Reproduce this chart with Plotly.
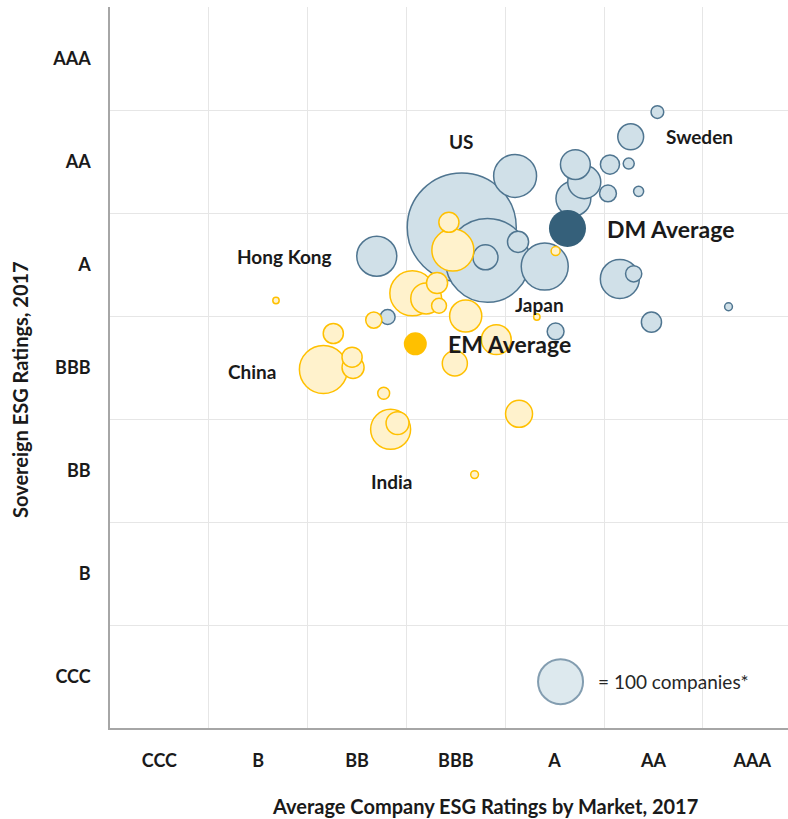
import numpy as np
import plotly.graph_objects as go

# --- rating scale (same on both axes) ---
RATINGS = ["CCC", "B", "BB", "BBB", "A", "AA", "AAA"]

# --- developed markets: avg company rating (x), sovereign rating (y), no. of companies ---
dm_x = [5.54, 5.27, 4.10, 3.56, 3.82, 3.80, 4.13, 4.40, 4.71, 4.80, 4.69, 5.06, 5.25,
        5.04, 5.35, 5.16, 5.30, 2.70, 2.81, 4.51, 6.26, 5.48]
dm_y = [5.98, 5.74, 5.36, 4.86, 4.54, 4.57, 4.72, 4.48, 5.47, 5.30, 5.14, 5.47, 5.48,
        5.19, 5.21, 4.36, 4.41, 4.58, 3.99, 3.85, 4.09, 3.94]
dm_companies = [8, 33, 91, 587, 348, 31, 22, 109, 44, 54, 60, 18, 6,
                14, 5, 75, 13, 79, 11, 14, 3, 20]

# --- emerging markets ---
em_x = [3.43, 3.47, 4.51, 3.06, 3.20, 3.31, 3.33, 3.60, 2.67, 1.68, 4.32, 3.91, 2.26,
        2.16, 2.45, 2.46, 3.49, 2.77, 2.84, 2.91, 4.14, 3.69]
em_y = [4.91, 4.64, 4.63, 4.22, 4.17, 4.32, 4.10, 4.00, 3.96, 4.15, 3.99, 3.77, 3.83,
        3.48, 3.60, 3.50, 3.54, 3.25, 2.90, 2.96, 3.05, 2.46]
em_companies = [20, 87, 4, 100, 47, 22, 11, 51, 13, 2, 2, 44, 20,
                114, 20, 24, 31, 7, 79, 26, 36, 3]

# --- averages ---
dm_avg = (4.63, 4.85)
em_avg = (3.09, 3.73)

# --- text labels (name, x, y, font size) ---
labels = [("US", 3.56, 5.69, 19), ("Sweden", 5.97, 5.74, 19), ("DM Average", 5.67, 4.84, 23),
          ("Hong Kong", 1.77, 4.58, 19), ("Japan", 4.35, 4.11, 19), ("EM Average", 4.04, 3.73, 23),
          ("China", 1.44, 3.46, 19), ("India", 2.85, 2.39, 19)]

REF_COMPANIES = 100
REF_DIAM = 45  # px diameter of a 100-company bubble


def diam(n):
    return REF_DIAM * np.sqrt(np.array(n, dtype=float) / REF_COMPANIES)


FONT = "Lato, 'Open Sans', sans-serif"
DM_FILL, DM_LINE = "#D0E0E8", "#4F7590"
EM_FILL, EM_LINE = "#FFF2CC", "#FFC000"

fig = go.Figure()

# draw largest first so the small bubbles stay visible
for xs, ys, ns, fill, edge in [(dm_x, dm_y, dm_companies, DM_FILL, DM_LINE),
                               (em_x, em_y, em_companies, EM_FILL, EM_LINE)]:
    order = np.argsort(ns)[::-1]
    fig.add_trace(go.Scatter(
        x=np.array(xs)[order], y=np.array(ys)[order], mode="markers",
        marker=dict(size=diam(ns)[order], sizemode="diameter", color=fill, opacity=1,
                    line=dict(color=edge, width=1.5)),
        showlegend=False, hoverinfo="skip"))

fig.add_trace(go.Scatter(x=[dm_avg[0]], y=[dm_avg[1]], mode="markers",
                         marker=dict(size=37, color="#35607A", line=dict(width=0)),
                         showlegend=False))
fig.add_trace(go.Scatter(x=[em_avg[0]], y=[em_avg[1]], mode="markers",
                         marker=dict(size=23, color="#FFC000", line=dict(width=0)),
                         showlegend=False))

# size key
fig.add_trace(go.Scatter(x=[4.56], y=[0.45], mode="markers",
                         marker=dict(size=diam([REF_COMPANIES]), color=DM_FILL,
                                     line=dict(color=DM_LINE, width=2)),
                         showlegend=False))
fig.add_annotation(x=4.92, y=0.45, text="= 100 companies*", showarrow=False, xanchor="left",
                   font=dict(family=FONT, size=19, color="#262626"))

for name, lx, ly, fs in labels:
    fig.add_annotation(x=lx, y=ly, text=f"<b>{name}</b>", showarrow=False,
                       font=dict(family=FONT, size=fs, color="#1a1a1a"))

# axis titles
fig.add_annotation(xref="paper", yref="paper", x=0.553, y=-0.108,
                   text="<b>Average Company ESG Ratings by Market, 2017</b>",
                   showarrow=False, yanchor="middle", font=dict(family=FONT, size=20, color="#1a1a1a"))
fig.add_annotation(xref="paper", yref="paper", x=-0.133, y=0.47, text="<b>Sovereign ESG Ratings, 2017</b>",
                   textangle=-90, showarrow=False, xanchor="center", font=dict(family=FONT, size=20, color="#1a1a1a"))

mids = [i + 0.5 for i in range(len(RATINGS))]
axis_common = dict(tickvals=mids, ticktext=[f"<b>{r}</b>" for r in RATINGS], showgrid=False,
                   zeroline=False, showline=True, linecolor="#A6A6A6", linewidth=1.5,
                   tickfont=dict(family=FONT, size=18, color="#1a1a1a"), ticks="")

fig.update_xaxes(range=[0, 6.862], ticklabelstandoff=16,
                 minor=dict(tickvals=list(range(1, 7)), showgrid=True, gridcolor="#E6E6E6", gridwidth=1),
                 **axis_common)
fig.update_yaxes(range=[0, 7], ticklabelstandoff=14,
                 minor=dict(tickvals=list(range(1, 8)), showgrid=True, gridcolor="#E6E6E6", gridwidth=1),
                 **axis_common)

fig.update_layout(width=788, height=819, margin=dict(l=110, r=0, t=7, b=91),
                  plot_bgcolor="white", paper_bgcolor="white")

fig.write_html("out.html", config={"displayModeBar": False},
               post_script="document.body.style.margin='0';")
